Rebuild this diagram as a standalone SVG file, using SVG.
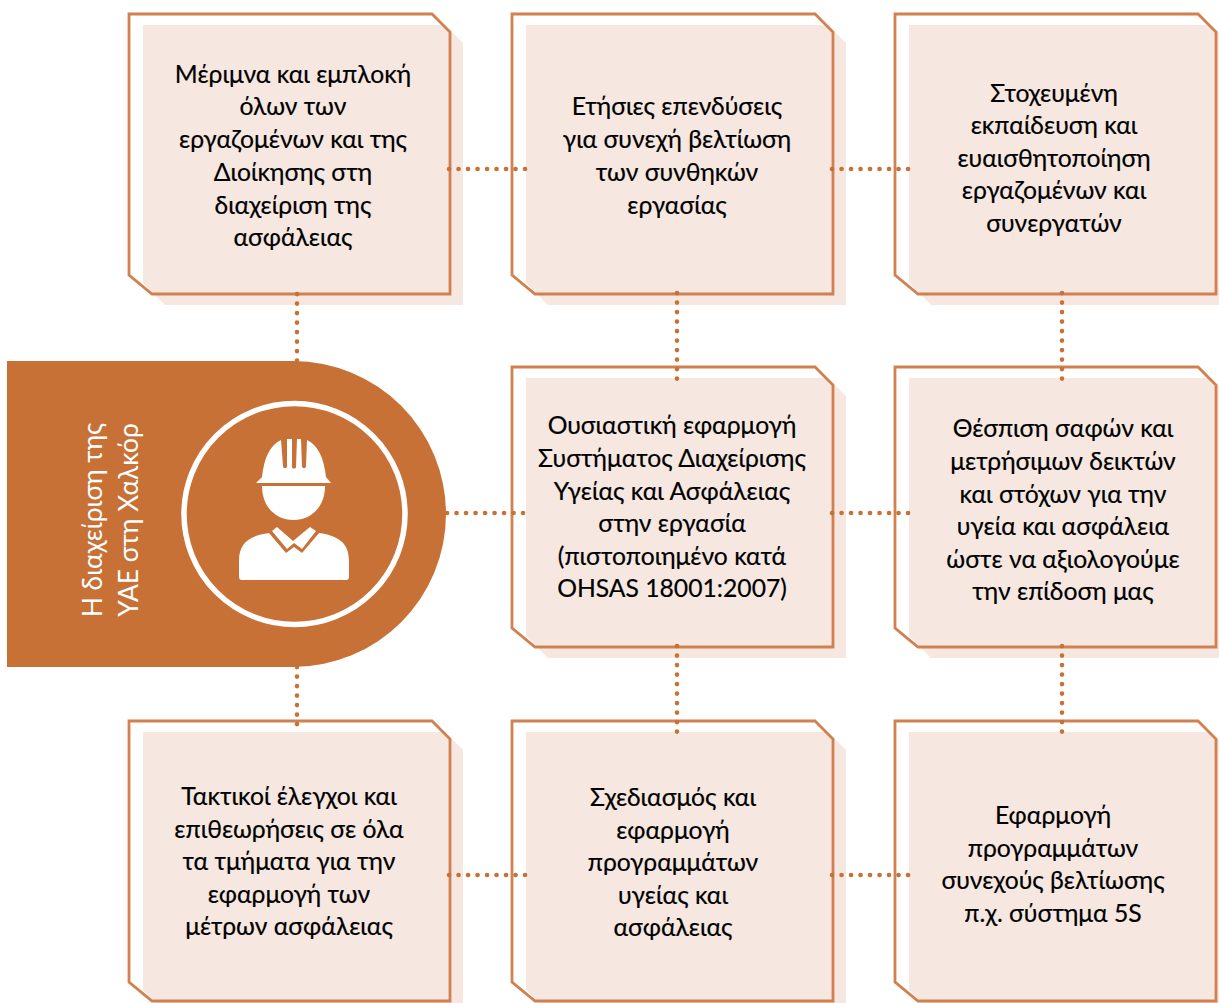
<svg xmlns="http://www.w3.org/2000/svg" width="1219" height="1003" viewBox="0 0 1219 1003">
<style>
.t{font-family:"Lato","Open Sans","Noto Sans",sans-serif;font-size:24.7px;fill:#000;stroke:#000;stroke-width:.2;text-anchor:middle}
.v{font-family:"Lato","Open Sans","Noto Sans",sans-serif;font-size:26.4px;fill:#fff;text-anchor:middle}
.s{fill:#f6e8e0}
.o{fill:none;stroke:#d1804f;stroke-width:2.8}
.c{fill:none;stroke:#c87137;stroke-width:4.600;stroke-linecap:round;stroke-dasharray:0.1 9.400}
</style>
<defs>
<g id="box">
<polygon class="s" points="14,11 316,11 334,29 334,291 36,291 14,269"/>
<polygon class="o" points="0,0 303,0 321,18 321,280 23,280 0,261"/>
</g>
</defs>
<rect width="1219" height="1003" fill="#fff"/>
<g id="n1" transform="translate(129,14)"><use href="#box"/></g>
<g id="n2" transform="translate(512,14)"><use href="#box"/></g>
<g id="n3" transform="translate(895,14)"><use href="#box"/></g>
<g id="n5" transform="translate(512,367)"><use href="#box"/></g>
<g id="n6" transform="translate(895,367)"><use href="#box"/></g>
<g id="n7" transform="translate(129,721)"><use href="#box"/></g>
<g id="n8" transform="translate(512,721)"><use href="#box"/></g>
<g id="n9" transform="translate(895,721)"><use href="#box"/></g>
<g id="banner">
<path d="M7,361H293A153,153 0 0 1 293,667H7Z" fill="#c87137"/>
<circle cx="294.500" cy="514" r="110.500" fill="none" stroke="#fff" stroke-width="5.500"/>
<path d="M256,483L262,477C264,458 270,445 281,440L283,466C283,469 287,469 287,466L287,439H292L292,467C292,469 296,469 296,467L297,439H301L302,466C302,469 306,469 306,466L307,440C318,445 324,458 326,477L331,483Z" fill="#fff"/>
<path d="M262,486H325C325,507 311,520 293.500,520C276,520 262,507 262,486Z" fill="#fff"/>
<path d="M242,580Q239,580 239,577V561C239,544 248,536 269,533L286,553L294,547L302,553L319,533C340,536 349,544 349,561V577Q349,580 346,580Z" fill="#fff"/>
<path d="M277,527L293,541L310,527L316,531L302,549L294,543L287,549L272,531Z" fill="#fff"/>
<text class="v" transform="translate(102,520) rotate(-90)">Η διαχείριση της</text>
<text class="v" transform="translate(138,520) rotate(-90)">ΥΑΕ στη Χαλκόρ</text>
</g>
<g id="connectors">
<path class="c" d="M449,169H530M832,169H914M447,513H532M832,513H916M449,875H530M832,875H912M297,294V361M677,293V381M1062,293V381M677,646V733M1062,646V733M297,667V733"/>
</g>
<g id="labels">
<text class="t" x="293" y="83">Μέριμνα και εμπλοκή</text>
<text class="t" x="293" y="115">όλων των</text>
<text class="t" x="293" y="148">εργαζομένων και της</text>
<text class="t" x="293" y="181">Διοίκησης στη</text>
<text class="t" x="293" y="214">διαχείριση της</text>
<text class="t" x="293" y="246">ασφάλειας</text>
<text class="t" x="677" y="115">Ετήσιες επενδύσεις</text>
<text class="t" x="677" y="148">για συνεχή βελτίωση</text>
<text class="t" x="677" y="181">των συνθηκών</text>
<text class="t" x="677" y="214">εργασίας</text>
<text class="t" x="1054" y="102">Στοχευμένη</text>
<text class="t" x="1054" y="134">εκπαίδευση και</text>
<text class="t" x="1054" y="167">ευαισθητοποίηση</text>
<text class="t" x="1054" y="199">εργαζομένων και</text>
<text class="t" x="1054" y="232">συνεργατών</text>
<text class="t" x="672" y="434">Ουσιαστική εφαρμογή</text>
<text class="t" x="672" y="467">Συστήματος Διαχείρισης</text>
<text class="t" x="672" y="500">Υγείας και Ασφάλειας</text>
<text class="t" x="672" y="532">στην εργασία</text>
<text class="t" x="672" y="565">(πιστοποιημένο κατά</text>
<text class="t" x="672" y="597">OHSAS 18001:2007)</text>
<text class="t" x="1063" y="437">Θέσπιση σαφών και</text>
<text class="t" x="1063" y="470">μετρήσιμων δεικτών</text>
<text class="t" x="1063" y="503">και στόχων για την</text>
<text class="t" x="1063" y="535">υγεία και ασφάλεια</text>
<text class="t" x="1063" y="568">ώστε να αξιολογούμε</text>
<text class="t" x="1063" y="600">την επίδοση μας</text>
<text class="t" x="289" y="805">Τακτικοί έλεγχοι και</text>
<text class="t" x="289" y="838">επιθεωρήσεις σε όλα</text>
<text class="t" x="289" y="870">τα τμήματα για την</text>
<text class="t" x="289" y="903">εφαρμογή των</text>
<text class="t" x="289" y="935">μέτρων ασφάλειας</text>
<text class="t" x="673" y="806">Σχεδιασμός και</text>
<text class="t" x="673" y="839">εφαρμογή</text>
<text class="t" x="673" y="871">προγραμμάτων</text>
<text class="t" x="673" y="904">υγείας και</text>
<text class="t" x="673" y="936">ασφάλειας</text>
<text class="t" x="1053" y="824">Εφαρμογή</text>
<text class="t" x="1053" y="857">προγραμμάτων</text>
<text class="t" x="1053" y="889">συνεχούς βελτίωσης</text>
<text class="t" x="1053" y="922">π.χ. σύστημα 5S</text>
</g>
</svg>
